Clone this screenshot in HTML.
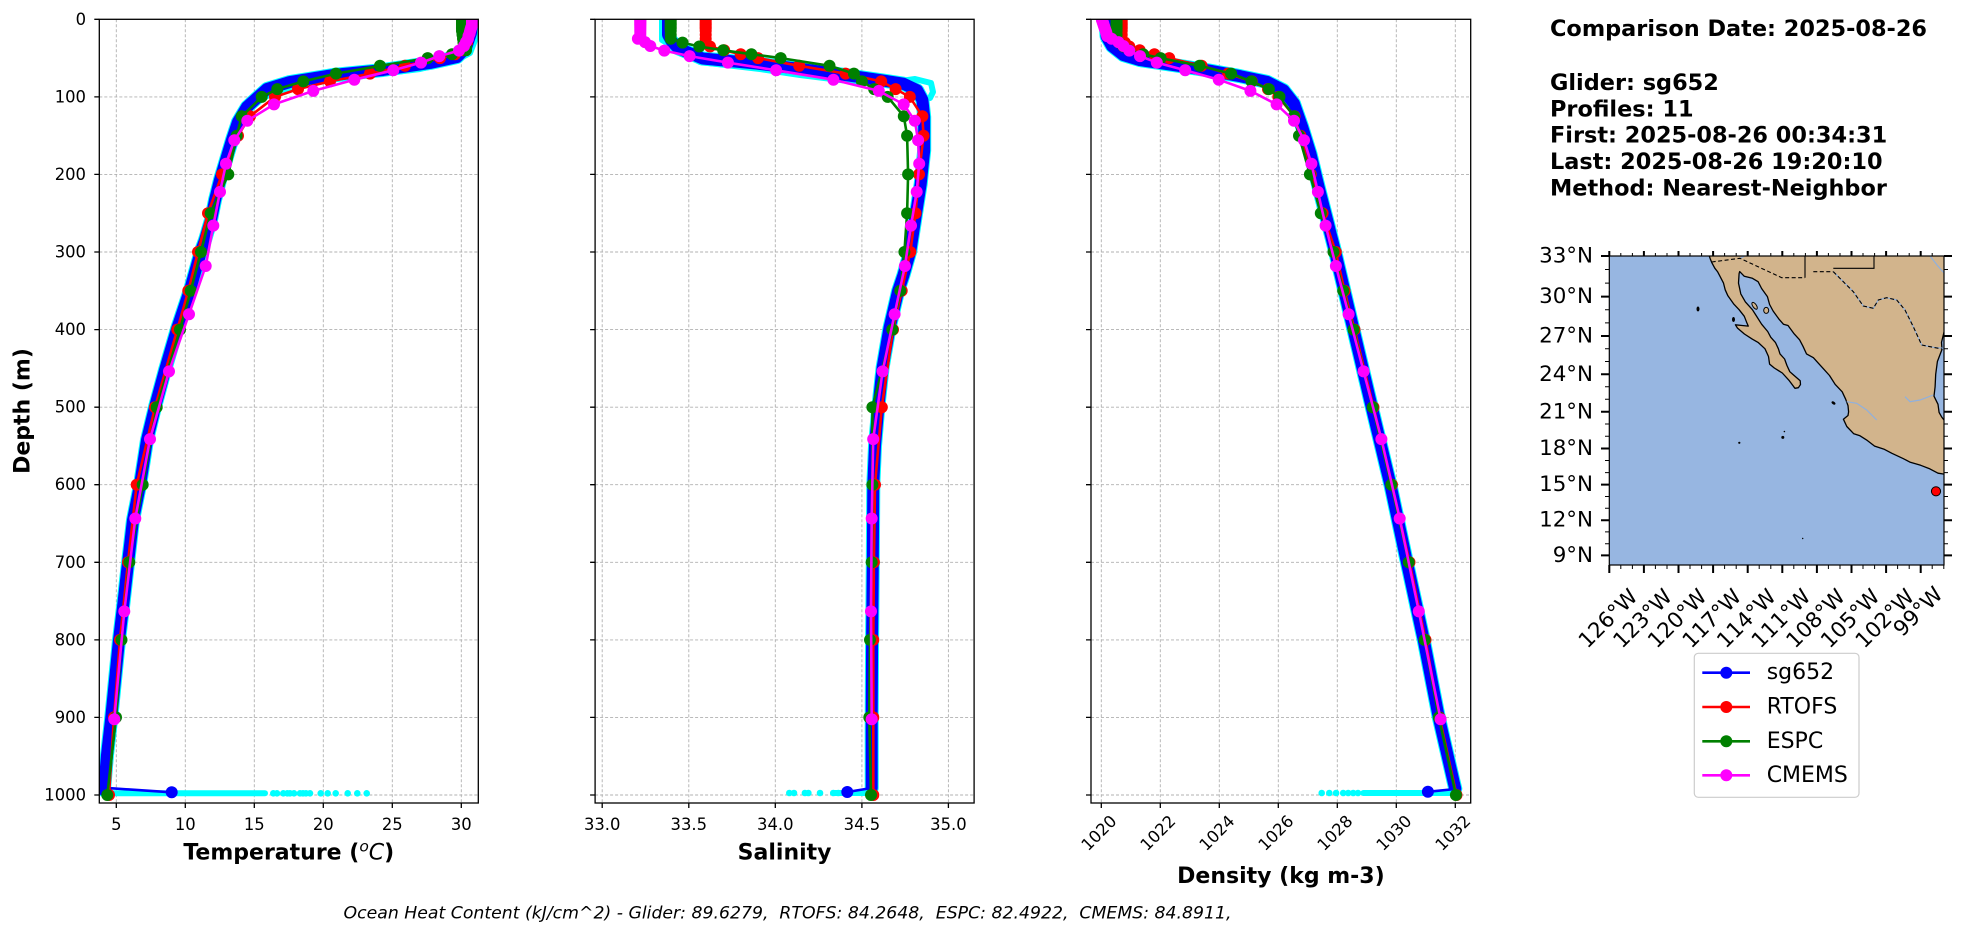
<!DOCTYPE html>
<html><head><meta charset="utf-8"><style>
html,body{margin:0;padding:0;background:#fff;}
svg{display:block;}
</style></head><body>
<svg width="1978" height="934" viewBox="0 0 1978 934" xmlns="http://www.w3.org/2000/svg" font-family="'DejaVu Sans','Liberation Sans',sans-serif">
<defs>
<clipPath id="cT"><rect x="99.3" y="19.3" width="379" height="783.7"/></clipPath>
<clipPath id="cS"><rect x="595.1" y="19.3" width="379" height="783.7"/></clipPath>
<clipPath id="cD"><rect x="1091" y="19.3" width="379.7" height="783.7"/></clipPath>
<clipPath id="cM"><rect x="1609.3" y="256" width="334.7" height="309"/></clipPath>
<marker id="mR" markerUnits="userSpaceOnUse" markerWidth="14" markerHeight="14" refX="7" refY="7" overflow="visible"><circle cx="7" cy="7" r="6" fill="#ff0000"/></marker>
<marker id="mG" markerUnits="userSpaceOnUse" markerWidth="14" markerHeight="14" refX="7" refY="7" overflow="visible"><circle cx="7" cy="7" r="6" fill="#008000"/></marker>
<marker id="mM" markerUnits="userSpaceOnUse" markerWidth="14" markerHeight="14" refX="7" refY="7" overflow="visible"><circle cx="7" cy="7" r="6" fill="#ff00ff"/></marker>
</defs>
<rect width="1978" height="934" fill="#fff"/>

<!-- ================= GRIDS ================= -->
<g stroke="#b0b0b0" stroke-width="0.9" stroke-dasharray="3,2" fill="none">
<path d="M116.3,19.3V803M185.3,19.3V803M254.3,19.3V803M323.3,19.3V803M392.3,19.3V803M461.3,19.3V803"/>
<path d="M99.3,96.9H478.3M99.3,174.4H478.3M99.3,252H478.3M99.3,329.6H478.3M99.3,407.2H478.3M99.3,484.7H478.3M99.3,562.3H478.3M99.3,639.9H478.3M99.3,717.4H478.3M99.3,795H478.3"/>
<path d="M602.2,19.3V803M688.8,19.3V803M775.3,19.3V803M861.9,19.3V803M948.4,19.3V803"/>
<path d="M595.1,96.9H974.1M595.1,174.4H974.1M595.1,252H974.1M595.1,329.6H974.1M595.1,407.2H974.1M595.1,484.7H974.1M595.1,562.3H974.1M595.1,639.9H974.1M595.1,717.4H974.1M595.1,795H974.1"/>
<path d="M1101.3,19.3V803M1160.3,19.3V803M1219.3,19.3V803M1278.3,19.3V803M1337.3,19.3V803M1396.3,19.3V803M1455.3,19.3V803"/>
<path d="M1091,96.9H1470.7M1091,174.4H1470.7M1091,252H1470.7M1091,329.6H1470.7M1091,407.2H1470.7M1091,484.7H1470.7M1091,562.3H1470.7M1091,639.9H1470.7M1091,717.4H1470.7M1091,795H1470.7"/>
</g>

<!-- ================= TEMPERATURE DATA ================= -->
<g clip-path="url(#cT)" fill="none" stroke-linejoin="round" stroke-linecap="round">
<polyline stroke="#00ffff" stroke-width="14" points="472,19 471,33 466,48 457,57 430,63 383,70 333,75 290,82 267,89 258,97 247,107 238,122 232,140 226,160 220,180 215,200 211,220 205,240 201,251 190,290 177,329 165,370 155,407 147,440 140,485 133,520 128,563 123,607 119,640 115,680 111,720 107,755 104,790"/>
<polyline stroke="#00ffff" stroke-width="6" points="476,19 475,40 470,53 455,61 420,69 380,74 330,80 292,87 272,93 262,99"/>
<polyline stroke="#0000ff" stroke-width="12" points="472,19 471,33 466,48 457,57 430,63 383,70 333,75 290,82 267,89 258,97 247,107 238,122 232,140 226,160 220,180 215,200 211,220 205,240 201,251 190,290 177,329 165,370 155,407 147,440 140,485 133,520 128,563 123,607 119,640 115,680 111,720 107,755 104,790"/>
<rect x="108" y="790.3" width="160" height="6" rx="3" fill="#00ffff"/>
<g fill="#00ffff" stroke="none">
<circle cx="273.3" cy="793.3" r="3.3"/><circle cx="277" cy="793.3" r="3.3"/><circle cx="283.3" cy="793.3" r="3.3"/><circle cx="287.3" cy="793.3" r="3.3"/><circle cx="290" cy="793.3" r="3.3"/><circle cx="294" cy="793.3" r="3.3"/><circle cx="300" cy="793.3" r="3.3"/><circle cx="303" cy="793.3" r="3.3"/><circle cx="306" cy="793.3" r="3.3"/><circle cx="310" cy="793.3" r="3.3"/><circle cx="320.7" cy="793.3" r="3.3"/><circle cx="327.7" cy="793.3" r="3.3"/><circle cx="335.7" cy="793.3" r="3.3"/><circle cx="347.7" cy="793.3" r="3.3"/><circle cx="357.3" cy="793.3" r="3.3"/><circle cx="366.7" cy="793.3" r="3.3"/>
</g>
<polyline stroke="#0000ff" stroke-width="2.6" points="104,790 111.7,788.3 171.7,792.3"/>
<circle cx="171.7" cy="792.3" r="6" fill="#0000ff" stroke="none"/>
<polyline stroke="#ff0000" stroke-width="2.6" marker-start="url(#mR)" marker-mid="url(#mR)" marker-end="url(#mR)" points="467,19.3 467,20.9 467,22.4 467,24 467,25.5 467,27.1 467,28.6 467,31 467,34.8 467,38.7 467,42.6 466,46.5 463,50.3 455,54.2 440,58.1 405,65.8 370,73.6 330,81.4 298,89.1 275,96.9 250,116.3 238,135.7 222,174.4 208,213.2 198,252 188.3,290.8 177.3,329.6 155,407.2 136.7,484.7 128,562.3 120,639.9 114,717.4 109,795"/>
<polyline stroke="#008000" stroke-width="2.6" marker-start="url(#mG)" marker-mid="url(#mG)" marker-end="url(#mG)" points="462,19.3 462,20.9 462,22.4 462,24 462,25.5 462,27.1 462,28.6 462,31 462.5,34.8 463,38.7 463.5,42.6 466,46.5 466,50.3 452,54.2 427.7,58.1 380,65.8 336,73.6 303.3,81.4 277.3,89.1 261.7,96.9 241.7,116.3 236.7,135.7 228.3,174.4 210.7,213.2 201,252 190.7,290.8 180,329.6 156.7,407.2 142.7,484.7 129.3,562.3 121.5,639.9 116,717.4 107.3,795"/>
<polyline stroke="#ff00ff" stroke-width="2.6" marker-start="url(#mM)" marker-mid="url(#mM)" marker-end="url(#mM)" points="472,19.7 472,20.5 472,21.3 472,22.2 472,23.3 472,24.3 472,25.4 471.5,26.7 471,28.1 470.5,29.8 470,31.6 469.5,33.7 468.5,36.1 468,38.8 466,42.1 464,46 459,50.6 439.3,56.1 421,62.6 393.3,70.3 354.3,79.7 313.3,90.9 274,104.4 247.3,120.7 234.3,140.2 226,163.7 220,191.9 213.3,225.6 205.7,266 189,314.2 169,371.4 150,439.1 135.3,518.5 124.3,611.4 114.3,719.2"/>
</g>

<!-- ================= SALINITY DATA ================= -->
<g clip-path="url(#cS)" fill="none" stroke-linejoin="round" stroke-linecap="round">
<polyline stroke="#00ffff" stroke-width="14" points="668,19.3 668,34.8 671.4,41 678.4,48.4 702.6,58.5 756.3,63.5 809.9,70.2 846.3,75.2 880.9,80.2 903.4,83.7 917.2,90.3 922.4,100 924.2,117 924.2,150.4 920.7,183.8 915.5,217.1 910.3,251.2 903.4,275.3 898.2,290.8 889.5,328 882.6,367.6 878.3,407.2 875,445.9 873.3,484.7 872.8,562.3 872.1,639.9 871.7,717.4 871.7,788"/>
<polyline stroke="#00ffff" stroke-width="6" points="662,19.3 662,40 700,62 760,69 800,75 840,80 880,84 915,79 931,83 933,92 930,98"/>
<polyline stroke="#0000ff" stroke-width="12" points="668,19.3 668,34.8 671.4,41 678.4,48.4 702.6,58.5 756.3,63.5 809.9,70.2 846.3,75.2 880.9,80.2 903.4,83.7 917.2,90.3 922.4,100 924.2,117 924.2,150.4 920.7,183.8 915.5,217.1 910.3,251.2 903.4,275.3 898.2,290.8 889.5,328 882.6,367.6 878.3,407.2 875,445.9 873.3,484.7 872.8,562.3 872.1,639.9 871.7,717.4 871.7,788"/>
<rect x="830" y="790" width="40" height="6" rx="3" fill="#00ffff"/>
<g fill="#00ffff" stroke="none">
<circle cx="789.3" cy="793" r="3.3"/><circle cx="794" cy="793" r="3.3"/><circle cx="804.9" cy="793" r="3.3"/><circle cx="808.4" cy="793" r="3.3"/><circle cx="820" cy="793" r="3.3"/><circle cx="833.3" cy="793" r="3.3"/><circle cx="838.3" cy="793" r="3.3"/>
</g>
<polyline stroke="#0000ff" stroke-width="2.6" points="871.7,788 847.3,792"/>
<circle cx="847.3" cy="792" r="6" fill="#0000ff" stroke="none"/>
<polyline stroke="#ff0000" stroke-width="2.6" marker-start="url(#mR)" marker-mid="url(#mR)" marker-end="url(#mR)" points="705.7,19.3 705.7,20.9 705.7,22.4 705.7,24 705.7,25.5 705.7,27.1 705.7,28.6 705.7,31 705.7,34.8 705.7,38.7 705.7,42.6 710,46.5 724.2,50.3 740.7,54.2 758,58.1 799.2,65.8 845.6,73.6 881.2,81.4 895.6,89.1 909.8,96.9 922.4,116.3 923.5,135.7 919,174.4 915.5,213.2 910.3,252 901.7,290.8 893,329.6 881.8,407.2 875,484.7 873.9,562.3 873.3,639.9 873.3,717.4 873.3,795"/>
<polyline stroke="#008000" stroke-width="2.6" marker-start="url(#mG)" marker-mid="url(#mG)" marker-end="url(#mG)" points="670.7,19.3 670.7,20.9 670.7,22.4 670.7,24 670.7,25.5 670.7,27.1 670.7,28.6 670.7,31 670.7,34.8 670.7,38.7 682.5,42.6 699.3,46.5 723.2,50.3 751.4,54.2 780.7,58.1 829.5,65.8 853.9,73.6 861.9,81.4 874.2,89.1 887.7,96.9 903.8,116.3 907.1,135.7 908.1,174.4 907.1,213.2 904.4,252 900.3,290.8 892.3,329.6 872.4,407.2 872.4,484.7 871.7,562.3 870,639.9 869.3,717.4 871,795"/>
<polyline stroke="#ff00ff" stroke-width="2.6" marker-start="url(#mM)" marker-mid="url(#mM)" marker-end="url(#mM)" points="640.3,19.7 640.3,20.5 640.3,21.3 640.3,22.2 640.3,23.3 640.3,24.3 640.3,25.4 640.3,26.7 640.3,28.1 640.3,29.8 640.3,31.6 640.3,33.7 640.3,36.1 637.9,38.8 645,42.1 650.3,46 664.3,50.6 689.6,56.1 727.9,62.6 776.1,70.3 833.4,79.7 878.8,90.9 903.7,104.4 914.8,120.7 918.1,140.2 919.2,163.7 916.7,191.9 911,225.6 904.9,266 894.6,314.2 882.6,371.4 873.2,439.1 871.7,518.5 871,611.4 871.7,719.2"/>
</g>

<!-- ================= DENSITY DATA ================= -->
<g clip-path="url(#cD)" fill="none" stroke-linejoin="round" stroke-linecap="round">
<polyline stroke="#00ffff" stroke-width="14" points="1105.1,19.3 1106.6,36.4 1112,46 1123.4,55 1140,60.1 1173.6,65.1 1207,70.2 1240.3,76.2 1267.1,81.9 1283.6,90.3 1294,103.7 1302.2,127.1 1310.5,153.9 1318.7,187.4 1327.3,220.9 1335.2,252 1353.5,329.6 1371.8,407.2 1390.4,484.7 1406.9,562.3 1423.7,639.9 1438.8,717.4 1453.8,782.6 1455.3,788.8"/>
<polyline stroke="#00ffff" stroke-width="6" points="1118,52 1140,64 1180,69 1240,80 1270,85"/>
<polyline stroke="#0000ff" stroke-width="12" points="1105.1,19.3 1106.6,36.4 1112,46 1123.4,55 1140,60.1 1173.6,65.1 1207,70.2 1240.3,76.2 1267.1,81.9 1283.6,90.3 1294,103.7 1302.2,127.1 1310.5,153.9 1318.7,187.4 1327.3,220.9 1335.2,252 1353.5,329.6 1371.8,407.2 1390.4,484.7 1406.9,562.3 1423.7,639.9 1438.8,717.4 1453.8,782.6 1455.3,788.8"/>
<rect x="1360.3" y="790" width="93.5" height="6" rx="3" fill="#00ffff"/>
<g fill="#00ffff" stroke="none">
<circle cx="1321.7" cy="793" r="3.3"/><circle cx="1329.3" cy="793" r="3.3"/><circle cx="1336.1" cy="793" r="3.3"/><circle cx="1343.2" cy="793" r="3.3"/><circle cx="1348.2" cy="793" r="3.3"/><circle cx="1353.2" cy="793" r="3.3"/><circle cx="1358" cy="793" r="3.3"/>
</g>
<polyline stroke="#0000ff" stroke-width="2.6" points="1455.3,789 1427.9,791.8"/>
<circle cx="1427.9" cy="791.8" r="6" fill="#0000ff" stroke="none"/>
<polyline stroke="#ff0000" stroke-width="2.6" marker-start="url(#mR)" marker-mid="url(#mR)" marker-end="url(#mR)" points="1121.7,19.3 1121.7,20.9 1121.7,22.4 1121.7,24 1121.7,25.5 1121.7,27.1 1121.7,28.6 1121.7,31 1121.7,34.8 1121.7,38.7 1124.9,42.6 1129.3,46.5 1139.7,50.3 1154.4,54.2 1169.2,58.1 1201.6,65.8 1228.1,73.6 1251.8,81.4 1268,89.1 1278.3,96.9 1294.5,116.3 1300.4,135.7 1310.8,174.4 1322.6,213.2 1335.8,252 1344.5,290.8 1354.5,329.6 1373.5,407.2 1392,484.7 1409.5,562.3 1425.5,639.9 1439.5,717.4 1456.5,795"/>
<polyline stroke="#008000" stroke-width="2.6" marker-start="url(#mG)" marker-mid="url(#mG)" marker-end="url(#mG)" points="1116.6,19.3 1116.6,20.9 1116.6,22.4 1116.6,24 1116.6,25.5 1116.6,27.1 1116.6,28.6 1116.6,31 1116.6,34.8 1116.6,38.7 1119,42.6 1123.4,46.5 1129.3,50.3 1143.2,54.2 1160.6,58.1 1199.5,65.8 1231.1,73.6 1251.5,81.4 1268.9,89.1 1279.5,96.9 1294,116.3 1299,135.7 1309.9,174.4 1320.8,213.2 1333.5,252 1343.2,290.8 1353.5,329.6 1372.7,407.2 1391.3,484.7 1408.7,562.3 1424.6,639.9 1438.8,717.4 1455.9,795"/>
<polyline stroke="#ff00ff" stroke-width="2.6" marker-start="url(#mM)" marker-mid="url(#mM)" marker-end="url(#mM)" points="1101.9,19.7 1102.2,20.5 1102.5,21.3 1102.8,22.2 1103.1,23.3 1103.4,24.3 1103.8,25.4 1104.2,26.7 1104.7,28.1 1105.3,29.8 1106,31.6 1106.6,33.7 1107.2,36.1 1111.6,38.8 1118.4,42.1 1123.4,46 1129.3,50.6 1140,56.1 1156.8,62.6 1185.2,70.3 1218.8,79.7 1250.4,90.9 1276.6,104.4 1294,120.7 1304,140.2 1311.4,163.7 1317.9,191.9 1325.6,225.6 1335.9,266 1348.6,314.2 1363.6,371.4 1381.4,439.1 1399.7,518.5 1418.8,611.4 1440.6,719.2"/>
</g>

<!-- ================= AXES FRAMES & TICKS ================= -->
<g fill="none" stroke="#000" stroke-width="1.3">
<rect x="99.3" y="19.3" width="379" height="783.7"/>
<rect x="595.1" y="19.3" width="379" height="783.7"/>
<rect x="1091" y="19.3" width="379.7" height="783.7"/>
<path d="M94.3,19.3H99.3M94.3,96.9H99.3M94.3,174.4H99.3M94.3,252H99.3M94.3,329.6H99.3M94.3,407.2H99.3M94.3,484.7H99.3M94.3,562.3H99.3M94.3,639.9H99.3M94.3,717.4H99.3M94.3,795H99.3"/>
<path d="M590.1,19.3H595.1M590.1,96.9H595.1M590.1,174.4H595.1M590.1,252H595.1M590.1,329.6H595.1M590.1,407.2H595.1M590.1,484.7H595.1M590.1,562.3H595.1M590.1,639.9H595.1M590.1,717.4H595.1M590.1,795H595.1"/>
<path d="M1086,19.3H1091M1086,96.9H1091M1086,174.4H1091M1086,252H1091M1086,329.6H1091M1086,407.2H1091M1086,484.7H1091M1086,562.3H1091M1086,639.9H1091M1086,717.4H1091M1086,795H1091"/>
<path d="M116.3,803V808M185.3,803V808M254.3,803V808M323.3,803V808M392.3,803V808M461.3,803V808"/>
<path d="M602.2,803V808M688.8,803V808M775.3,803V808M861.9,803V808M948.4,803V808"/>
<path d="M1101.3,803V808M1160.3,803V808M1219.3,803V808M1278.3,803V808M1337.3,803V808M1396.3,803V808M1455.3,803V808"/>
</g>

<!-- ================= TICK LABELS ================= -->
<g font-size="16.4" fill="#000">
<g text-anchor="end" dominant-baseline="central">
<text x="86" y="19.3">0</text><text x="86" y="96.9">100</text><text x="86" y="174.4">200</text><text x="86" y="252">300</text><text x="86" y="329.6">400</text><text x="86" y="407.2">500</text><text x="86" y="484.7">600</text><text x="86" y="562.3">700</text><text x="86" y="639.9">800</text><text x="86" y="717.4">900</text><text x="86" y="795">1000</text>
</g>
<g text-anchor="middle">
<text x="116.3" y="830">5</text><text x="185.3" y="830">10</text><text x="254.3" y="830">15</text><text x="323.3" y="830">20</text><text x="392.3" y="830">25</text><text x="461.3" y="830">30</text>
<text x="602.2" y="830">33.0</text><text x="688.8" y="830">33.5</text><text x="775.3" y="830">34.0</text><text x="861.9" y="830">34.5</text><text x="948.4" y="830">35.0</text>
</g>
<g text-anchor="middle" dominant-baseline="central">
<text transform="translate(1099,833) rotate(-45)">1020</text>
<text transform="translate(1158,833) rotate(-45)">1022</text>
<text transform="translate(1217,833) rotate(-45)">1024</text>
<text transform="translate(1276,833) rotate(-45)">1026</text>
<text transform="translate(1335,833) rotate(-45)">1028</text>
<text transform="translate(1394,833) rotate(-45)">1030</text>
<text transform="translate(1453,833) rotate(-45)">1032</text>
</g>
</g>

<!-- ================= AXIS LABELS ================= -->
<g font-size="22" font-weight="bold" fill="#000" text-anchor="middle">
<text transform="translate(23,411) rotate(-90)" dominant-baseline="central">Depth (m)</text>
<text x="288.8" y="859.3">Temperature (<tspan font-style="italic" font-weight="normal" font-size="15.5" dy="-8">o</tspan><tspan font-style="italic" font-weight="normal" dy="8">C</tspan>)</text>
<text x="784.6" y="859.3">Salinity</text>
<text x="1280.9" y="883">Density (kg m-3)</text>
</g>

<text x="787.5" y="918.5" font-size="17" font-style="italic" text-anchor="middle" textLength="888" lengthAdjust="spacingAndGlyphs" style="white-space:pre" xml:space="preserve">Ocean Heat Content (kJ/cm^2) - Glider: 89.6279,  RTOFS: 84.2648,  ESPC: 82.4922,  CMEMS: 84.8911,</text>

<!-- ================= HEADER TEXT ================= -->
<g font-size="22.4" font-weight="bold" fill="#000">
<text x="1550" y="36">Comparison Date: 2025-08-26</text>
<text x="1550" y="90">Glider: sg652</text>
<text x="1550" y="116.3">Profiles: 11</text>
<text x="1550" y="142.7">First: 2025-08-26 00:34:31</text>
<text x="1550" y="169">Last: 2025-08-26 19:20:10</text>
<text x="1550" y="195.3">Method: Nearest-Neighbor</text>
</g>

<!-- ================= MAP ================= -->
<g clip-path="url(#cM)">
<rect x="1609.3" y="256" width="334.7" height="309" fill="#97b6e1"/>
<path fill="#d2b48c" stroke="#000" stroke-width="1.3" stroke-linejoin="round" d="M1709.3,256 L1710.2,258.7 L1711.7,262.4 L1714.8,268.2 L1717.5,271.6 L1720,276.3 L1723.5,283.1 L1725.2,289.8 L1727.9,295.8 L1733.9,304.2 L1739.1,309.7 L1744.3,316.3 L1746.6,322.2 L1748.3,326.1 L1742.1,325.5 L1735.4,324.8 L1737.5,328.1 L1744.4,334 L1752.4,339.2 L1758.1,342.4 L1765,348.8 L1768.5,356.5 L1769.6,364.1 L1774.3,368 L1782.3,373 L1789.2,380.6 L1793.8,386.8 L1795,388.3 L1798.4,387.7 L1800.5,384.5 L1800.2,380.8 L1797.3,378.3 L1792.7,374.3 L1789.8,371.7 L1786.9,365.4 L1784.6,359 L1780,353.9 L1778.4,348.8 L1775.4,342.4 L1770.8,337.3 L1767.7,331.5 L1761.6,324.2 L1755.8,315 L1752.4,309.7 L1745.4,301.9 L1740.8,293.9 L1738.5,283.1 L1739.1,273.6 L1739.7,271.6 L1744.3,276.3 L1752.4,278.3 L1758.1,281.7 L1761.6,288.5 L1767.4,296.6 L1769.6,304.5 L1773.1,311 L1778.8,318.9 L1783.4,324.2 L1788,325.5 L1793.8,333.4 L1799.6,339.8 L1803,346.3 L1806.5,353.9 L1813.4,357.7 L1818,362.8 L1823.8,369.2 L1829.5,375.5 L1835.1,384.3 L1842.2,391.8 L1845.7,399.3 L1848,405.6 L1848.6,411.8 L1848,415.5 L1843.4,419.2 L1846.8,426.5 L1853.8,433.8 L1859.6,435.6 L1866.5,439.9 L1874.6,446.1 L1883.8,449.1 L1891.9,453.3 L1903.4,458.7 L1910.3,462.3 L1920.7,465.3 L1929.9,468.9 L1938,473.2 L1946,474.4 L1946,422.8 L1941.5,416.7 L1939.1,412.4 L1938,404.3 L1934,396.2 L1935.1,386.8 L1935.7,374.3 L1937.4,361.5 L1942,349.4 L1941.5,342.4 L1946,324 L1946,250 L1709.3,250 Z"/>
<g fill="#d2b48c" stroke="#000" stroke-width="1">
<ellipse cx="1754.6" cy="305.8" rx="1.8" ry="4" transform="rotate(-35 1754.6 305.8)"/>
<ellipse cx="1766.2" cy="310.4" rx="2.5" ry="3"/>
</g>
<g fill="#000">
<ellipse cx="1698" cy="309" rx="1.5" ry="2.5"/>
<ellipse cx="1733.5" cy="319.5" rx="1.5" ry="2.5"/>
<circle cx="1739.3" cy="442.8" r="1.1"/>
<circle cx="1782.8" cy="437.4" r="1.5"/>
<circle cx="1784.4" cy="431.5" r="0.8"/>
<ellipse cx="1833.5" cy="403" rx="2.2" ry="1.3" transform="rotate(35 1833.5 403)"/>
<circle cx="1802.7" cy="538.5" r="0.7"/>
</g>
<g fill="none" stroke="#8fb0de" stroke-width="1.2">
<polyline points="1833.3,271.7 1853.3,291.7 1863.3,306 1873.3,308.3 1878.3,300 1886.7,297.7 1896.7,300 1905,310 1913.3,326.7 1921.7,345 1933.3,347.3 1944,348.3"/>
<polyline points="1905,396.7 1910,401.7 1920,400 1933.3,395"/>
<polyline points="1846.7,401.7 1856.7,403.3 1866.7,410 1876.7,420"/>
<polyline points="1930,256 1937,265 1944,273"/>
<polyline points="1740,258.3 1745,256"/>
</g>
<g fill="none" stroke="#000" stroke-width="1.1">
<polyline stroke-dasharray="4,2.5" points="1711.7,262 1740,258.3 1781.7,277.7 1805,277.7"/>
<polyline points="1805,256 1805,277.7"/>
<polyline stroke-dasharray="4,2.5" points="1813.3,271.7 1833.3,271.7"/>
<polyline points="1833.3,268.3 1874,268.3 1874,256"/>
<polyline stroke-dasharray="4,2.5" points="1833.3,271.7 1853.3,291.7 1863.3,306 1873.3,308.3 1878.3,300 1886.7,297.7 1896.7,300 1905,310 1913.3,326.7 1921.7,345 1933.3,347.3 1942,349"/>
</g>
<circle cx="1936" cy="491.3" r="4.6" fill="#ff0000" stroke="#000" stroke-width="1"/>
</g>
<rect x="1609.3" y="256" width="334.7" height="309" fill="none" stroke="#000" stroke-width="1.2"/>
<g stroke="#000" fill="none">
<path stroke-width="2" d="M1601,256H1609.3M1601,296.6H1609.3M1601,336H1609.3M1601,374.3H1609.3M1601,411.8H1609.3M1601,448.5H1609.3M1601,484.6H1609.3M1601,520.2H1609.3M1601,555.4H1609.3"/>
<path stroke-width="2" d="M1944,256H1952M1944,296.6H1952M1944,336H1952M1944,374.3H1952M1944,411.8H1952M1944,448.5H1952M1944,484.6H1952M1944,520.2H1952M1944,555.4H1952"/>
<path stroke-width="1" d="M1605,269.5H1609.3M1605,283.1H1609.3M1605,309.7H1609.3M1605,322.9H1609.3M1605,348.8H1609.3M1605,361.5H1609.3M1605,386.8H1609.3M1605,399.3H1609.3M1605,424H1609.3M1605,436.3H1609.3M1605,460.5H1609.3M1605,472.6H1609.3M1605,496.5H1609.3M1605,508.3H1609.3M1605,531.9H1609.3M1605,543.7H1609.3"/>
<path stroke-width="1" d="M1944,269.5H1948M1944,283.1H1948M1944,309.7H1948M1944,322.9H1948M1944,348.8H1948M1944,361.5H1948M1944,386.8H1948M1944,399.3H1948M1944,424H1948M1944,436.3H1948M1944,460.5H1948M1944,472.6H1948M1944,496.5H1948M1944,508.3H1948M1944,531.9H1948M1944,543.7H1948"/>
<path stroke-width="2" d="M1609.3,565V573M1643.9,565V573M1678.5,565V573M1713.1,565V573M1747.7,565V573M1782.3,565V573M1816.9,565V573M1851.5,565V573M1886.1,565V573M1920.7,565V573"/>
<path stroke-width="1" d="M1620.8,565V569M1632.4,565V569M1655.4,565V569M1667,565V569M1690,565V569M1701.6,565V569M1724.6,565V569M1736.2,565V569M1759.2,565V569M1770.8,565V569M1793.8,565V569M1805.4,565V569M1828.4,565V569M1840,565V569M1863,565V569M1874.6,565V569M1897.6,565V569M1909.2,565V569M1932.2,565V569M1943.8,565V569"/>
<path stroke-width="2" d="M1609.3,256V251M1643.9,256V251M1678.5,256V251M1713.1,256V251M1747.7,256V251M1782.3,256V251M1816.9,256V251M1851.5,256V251M1886.1,256V251M1920.7,256V251"/>
<path stroke-width="1" d="M1620.8,256V253M1632.4,256V253M1655.4,256V253M1667,256V253M1690,256V253M1701.6,256V253M1724.6,256V253M1736.2,256V253M1759.2,256V253M1770.8,256V253M1793.8,256V253M1805.4,256V253M1828.4,256V253M1840,256V253M1863,256V253M1874.6,256V253M1897.6,256V253M1909.2,256V253M1932.2,256V253"/>
</g>
<g font-size="21.4" fill="#000">
<g text-anchor="end" dominant-baseline="central">
<text x="1593" y="256">33°N</text><text x="1593" y="296.6">30°N</text><text x="1593" y="336">27°N</text><text x="1593" y="374.3">24°N</text><text x="1593" y="411.8">21°N</text><text x="1593" y="448.5">18°N</text><text x="1593" y="484.6">15°N</text><text x="1593" y="520.2">12°N</text><text x="1593" y="555.4">9°N</text>
</g>
<g text-anchor="middle" dominant-baseline="central">
<text transform="translate(1608.5,619) rotate(-45)">126°W</text>
<text transform="translate(1643.1,619) rotate(-45)">123°W</text>
<text transform="translate(1677.7,619) rotate(-45)">120°W</text>
<text transform="translate(1712.3,619) rotate(-45)">117°W</text>
<text transform="translate(1746.9,619) rotate(-45)">114°W</text>
<text transform="translate(1781.5,619) rotate(-45)">111°W</text>
<text transform="translate(1816.1,619) rotate(-45)">108°W</text>
<text transform="translate(1850.7,619) rotate(-45)">105°W</text>
<text transform="translate(1885.3,619) rotate(-45)">102°W</text>
<text transform="translate(1918.5,612) rotate(-45)">99°W</text>
</g>
</g>

<!-- ================= LEGEND ================= -->
<rect x="1694.3" y="653.3" width="164.7" height="144" rx="4" fill="#fff" stroke="#cccccc" stroke-width="1.2"/>
<g stroke-width="2.6">
<line x1="1702.3" y1="672.7" x2="1750" y2="672.7" stroke="#0000ff"/><circle cx="1726.3" cy="672.7" r="6" fill="#0000ff"/>
<line x1="1702.3" y1="707" x2="1750" y2="707" stroke="#ff0000"/><circle cx="1726.3" cy="707" r="6" fill="#ff0000"/>
<line x1="1702.3" y1="741.3" x2="1750" y2="741.3" stroke="#008000"/><circle cx="1726.3" cy="741.3" r="6" fill="#008000"/>
<line x1="1702.3" y1="775.3" x2="1750" y2="775.3" stroke="#ff00ff"/><circle cx="1726.3" cy="775.3" r="6" fill="#ff00ff"/>
</g>
<g font-size="22" fill="#000" dominant-baseline="central">
<text x="1766.7" y="672.7">sg652</text>
<text x="1766.7" y="707">RTOFS</text>
<text x="1766.7" y="741.3">ESPC</text>
<text x="1766.7" y="775.3">CMEMS</text>
</g>
</svg>
</body></html>
